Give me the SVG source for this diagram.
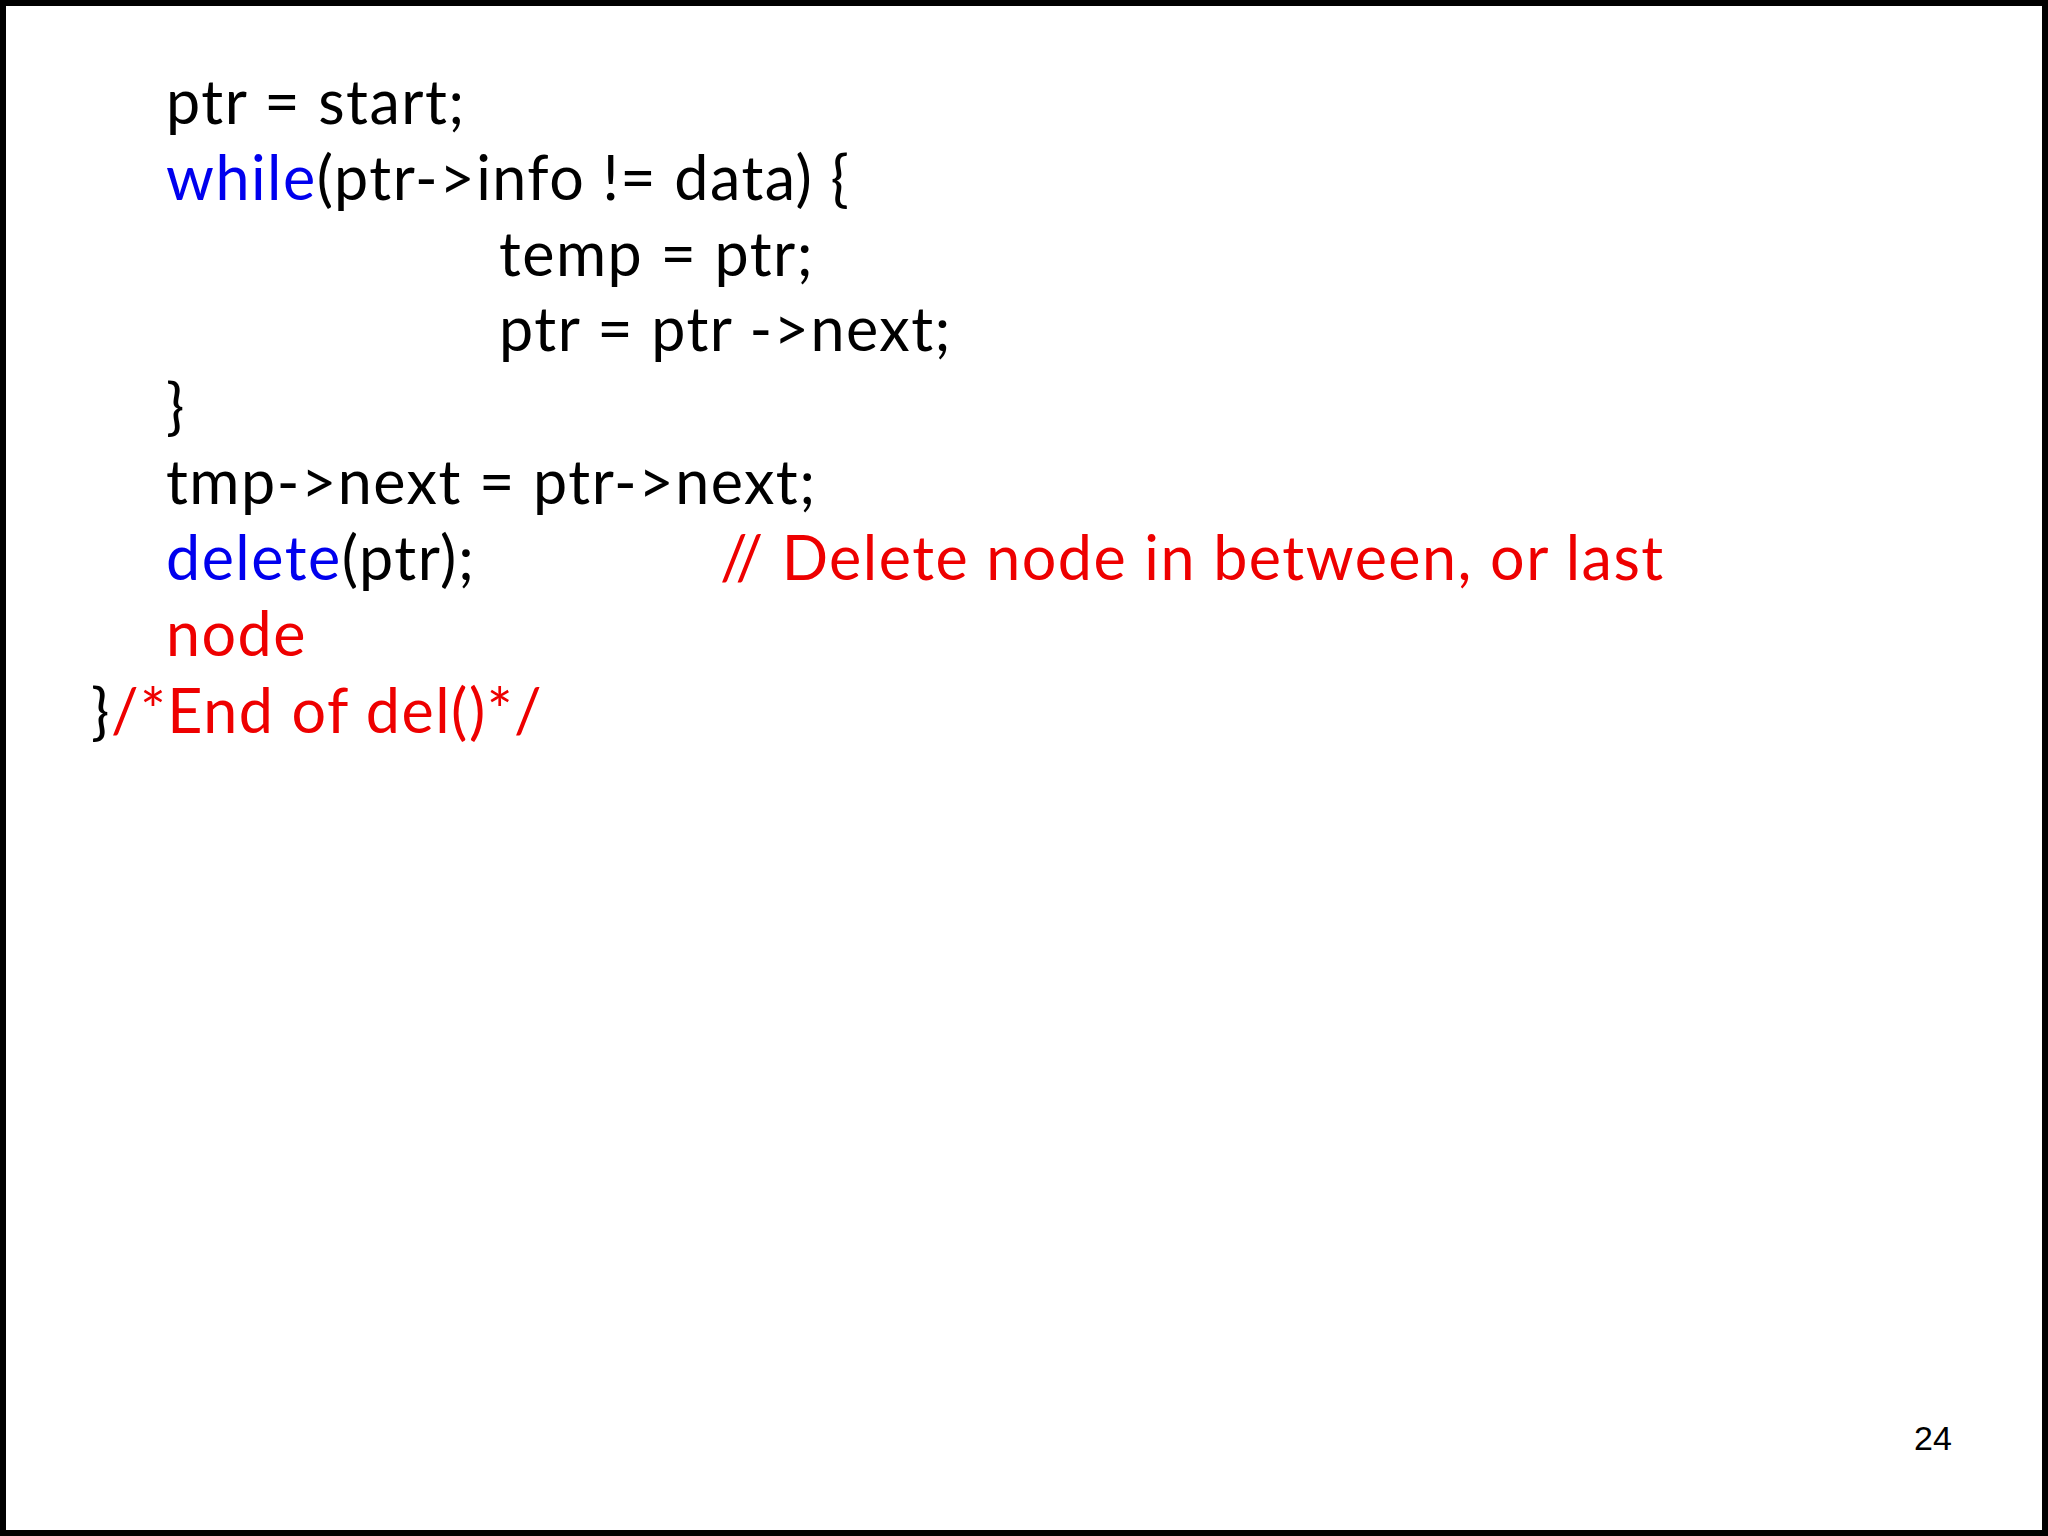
<svg xmlns="http://www.w3.org/2000/svg" width="2048" height="1536" viewBox="0 0 2048 1536">
<style>
.t{font-family:Lato,"Open Sans",sans-serif;font-size:61px;letter-spacing:1.5px;fill:#000}
.k{fill:#0000ee}.c{fill:#ee0000}
</style>
<rect x="3" y="3" width="2042" height="1530" fill="#fff" stroke="#000" stroke-width="6"/>
<g id="code">
<text class="t" x="166" y="124">ptr = start;</text>
<text class="t" x="166" y="200"><tspan class="k">while</tspan>(ptr-&gt;info != data) {</text>
<text class="t" x="499" y="276">temp = ptr;</text>
<text class="t" x="499" y="351">ptr = ptr -&gt;next;</text>
<text class="t" x="166" y="428">}</text>
<text class="t" x="166" y="504">tmp-&gt;next = ptr-&gt;next;</text>
<text class="t" x="166" y="580"><tspan class="k">delete</tspan>(ptr);</text>
<text class="t c" x="720" y="580">// Delete node in between, or last</text>
<text class="t c" x="166" y="656">node</text>
<text class="t" x="91" y="733">}<tspan class="c">/*End of del()*/</tspan></text>
</g>
<text id="page" x="1914" y="1450" font-family="Liberation Sans,Arial,sans-serif" font-size="34" fill="#000">24</text>
</svg>
